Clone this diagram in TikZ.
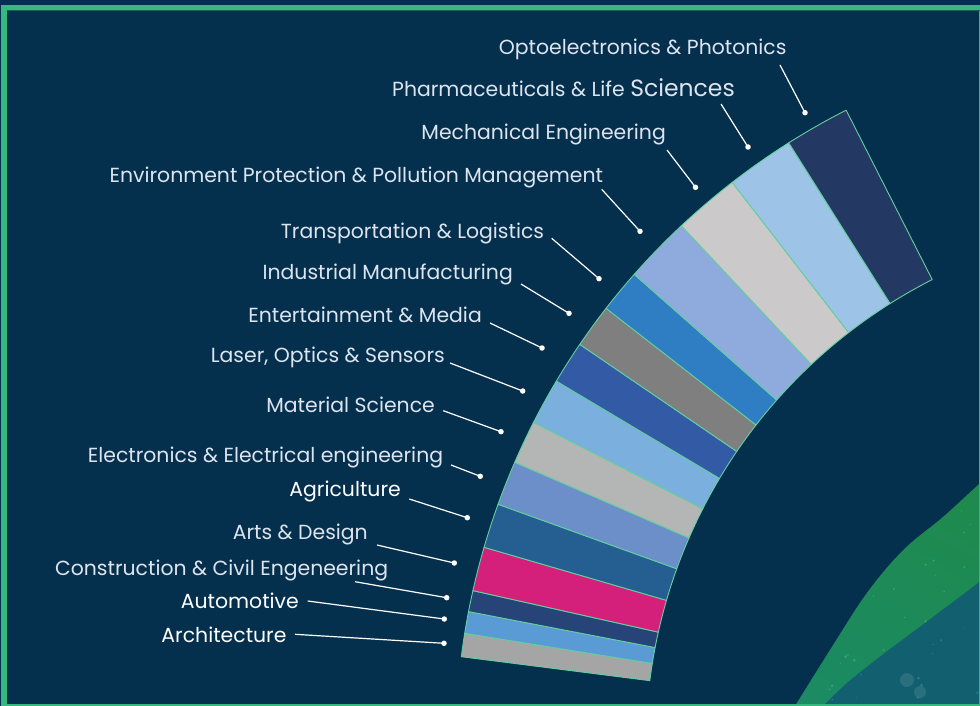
\documentclass[tikz,border=0pt]{standalone}
\usepackage{fontspec}
\setmainfont{Poppins}
\usetikzlibrary{calc}

\definecolor{bg}{HTML}{05304D}
\definecolor{framegreen}{HTML}{36B97F}
\definecolor{frameshade}{HTML}{1C5E5A}
\definecolor{segedge}{HTML}{62CFA0}
\definecolor{labelgrey}{HTML}{DCE4EF}
\definecolor{bandgreen}{HTML}{1C8A62}
\definecolor{bandgreentop}{HTML}{1F8A4E}
\definecolor{bandteal}{HTML}{115F6F}
% segment fills
\definecolor{cArch}{HTML}{A5A5A5}
\definecolor{cAuto}{HTML}{5B9BD5}
\definecolor{cCons}{HTML}{264478}
\definecolor{cArts}{HTML}{D4207B}
\definecolor{cAgri}{HTML}{255E91}
\definecolor{cElec}{HTML}{6C8EC9}
\definecolor{cMat}{HTML}{B4B5B5}
\definecolor{cLaser}{HTML}{7BAFDD}
\definecolor{cEnt}{HTML}{335AA5}
\definecolor{cInd}{HTML}{7F7F7F}
\definecolor{cTrans}{HTML}{2F7DC2}
\definecolor{cEnv}{HTML}{8FAADC}
\definecolor{cMech}{HTML}{CBC9CA}
\definecolor{cPharma}{HTML}{9DC3E6}
\definecolor{cOpto}{HTML}{233863}

\begin{document}
\begin{tikzpicture}[x=1pt,y=1pt,
  lbl/.style={anchor=base east, inner sep=0pt, text=labelgrey,
    font=\fontsize{20.4}{24}\selectfont},
  lblw/.style={lbl, text=white},
  leader/.style={draw=white, line width=1.2pt},
  dot/.style={circle, fill=white, inner sep=0pt, minimum size=5.5pt},
  segment/.style={draw=segedge, line width=0.9pt, line join=round}]

% canvas
\fill[bg] (0,0) rectangle (980,-706);
\useasboundingbox (0,0) rectangle (980,-706);

% decorative sweep in the lower right corner
\shade[top color=bandgreentop, bottom color=bandgreen, shading angle=-30]
  plot[smooth, tension=0.6] coordinates {(795,-706) (830,-650) (866.7,-593.3) (903.3,-550) (943.3,-516.7) (980,-483.3) (990,-476)}
  -- (990,-712) -- (790,-712) -- cycle;
\fill[bandteal] plot[smooth, tension=0.6] coordinates {(823.3,-706) (846.7,-683.3) (880,-656.7) (913.3,-631.7) (946.7,-606.7) (980,-581.7) (990,-574)}
  -- (990,-712) -- (815,-712) -- cycle;
\begin{scope}
  \clip plot[smooth, tension=0.6] coordinates {(795,-706) (830,-650) (866.7,-593.3) (903.3,-550) (943.3,-516.7) (980,-483.3) (990,-476)}
  -- (990,-712) -- (790,-712) -- cycle;
  \pgfmathsetseed{7}
  \foreach \i in {1,...,60} {
    \pgfmathsetmacro{\px}{800+rnd*185}
    \pgfmathsetmacro{\py}{-480-rnd*226}
    \pgfmathsetmacro{\pr}{0.5+rnd*1.2}
    \fill[white, opacity=0.14] (\px,\py) circle[radius=\pr];
  }
  \fill[white, opacity=0.10] (907,-680) circle[radius=7];
  \fill[white, opacity=0.10] (920,-692) circle[radius=6];
\end{scope}

% frame
\draw[framegreen, line width=5.4pt] (4,-7.5) rectangle (982,-707);
\draw[frameshade, line width=0.8pt] (6.7,-10.6) -- (980,-10.6);

% ring of sectors
\coordinate (C) at (1169.6,-746.7);
\foreach \a/\b/\c in {
   172.76/170.86/cArch, 170.86/169.09/cAuto, 169.09/167.37/cCons,
   167.37/163.78/cArts, 163.78/160.15/cAgri, 160.15/156.52/cElec,
   156.52/152.98/cMat, 152.98/149.20/cLaser, 149.20/145.70/cEnt,
   145.70/142.12/cInd, 142.12/138.58/cTrans, 138.58/133.14/cEnv,
   133.14/127.78/cMech, 127.78/122.24/cPharma, 122.24/116.94/cOpto} {
  \filldraw[segment, fill=\c, shift={(C)}]
    (\a:524) -- (\a:714) arc[start angle=\a, end angle=\b, radius=714]
    -- (\b:524) arc[start angle=\b, end angle=\a, radius=524] -- cycle;
}

% labels
\node[lbl] (tOpto)   at (786.7,-55)   {Optoelectronics \& Photonics};
\node[lbl] (tPharma) at (735,-96.7)   {Pharmaceuticals \& Life {\fontsize{23.5}{28}\selectfont Sciences}};
\node[lbl] (tMech)   at (666,-140)    {Mechanical Engineering};
\node[lbl] (tEnv)    at (603.3,-182.7){Environment Protection \& Pollution Management};
\node[lbl] (tTrans)  at (544.3,-238.3){Transportation \& Logistics};
\node[lbl] (tInd)    at (513,-279)    {Industrial Manufacturing};
\node[lbl] (tEnt)    at (482,-322)    {Entertainment \& Media};
\node[lbl] (tLaser)  at (445,-362)    {Laser, Optics \& Sensors};
\node[lbl] (tMat)    at (435,-412)    {Material Science};
\node[lbl] (tElec)   at (443.3,-462.7){Electronics \& Electrical engineering};
\node[lblw] (tAgri)  at (401,-496)    {Agriculture};
\node[lbl] (tArts)   at (368,-539.5)  {Arts \& Design};
\node[lbl] (tCons)   at (388.3,-575.7){Construction \& Civil Engeneering};
\node[lblw] (tAuto)  at (299,-608.3)  {Automotive};
\node[lblw] (tArch)  at (286.7,-642.3){Architecture};

% leader start points
\coordinate (sOpto)   at (780,-65);
\coordinate (sPharma) at (721,-104);
\coordinate (sMech)   at (667,-150);
\coordinate (sEnv)    at (601.7,-189.3);
\coordinate (sTrans)  at (551.7,-238.3);
\coordinate (sInd)    at (521,-284);
\coordinate (sEnt)    at (490,-323);
\coordinate (sLaser)  at (450,-363);
\coordinate (sMat)    at (443.3,-410.7);
\coordinate (sElec)   at (451,-465);
\coordinate (sAgri)   at (409.3,-499);
\coordinate (sArts)   at (377,-545);
\coordinate (sCons)   at (355,-581.7);
\coordinate (sAuto)   at (307.7,-601);
\coordinate (sArch)   at (295,-634.3);

% leader end dots
\node[dot] (dOpto)   at (805,-112.7) {};
\node[dot] (dPharma) at (748,-147) {};
\node[dot] (dMech)   at (695.5,-187.3) {};
\node[dot] (dEnv)    at (640,-231.3) {};
\node[dot] (dTrans)  at (599,-278.7) {};
\node[dot] (dInd)    at (569,-313.3) {};
\node[dot] (dEnt)    at (542,-348) {};
\node[dot] (dLaser)  at (522.7,-391) {};
\node[dot] (dMat)    at (501,-431.7) {};
\node[dot] (dElec)   at (480.3,-476.3) {};
\node[dot] (dAgri)   at (467.3,-517.7) {};
\node[dot] (dArts)   at (454.3,-563) {};
\node[dot] (dCons)   at (446.7,-597.7) {};
\node[dot] (dAuto)   at (444.3,-619) {};
\node[dot] (dArch)   at (444,-643.3) {};

\foreach \n in {Opto,Pharma,Mech,Env,Trans,Ind,Ent,Laser,Mat,Elec,Agri,Arts,Cons,Auto,Arch}
  \draw[leader] (s\n) -- (d\n.center);

\end{tikzpicture}
\end{document}
